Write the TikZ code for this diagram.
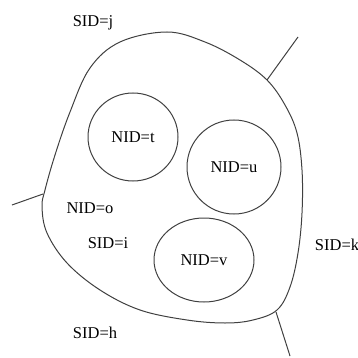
\documentclass[tikz,border=0pt]{standalone}
\usepackage{fontspec}
\setmainfont{Liberation Serif}
\usetikzlibrary{shapes.geometric}
\begin{document}
\begin{tikzpicture}[x=1pt,y=-1pt,
  ln/.style={line width=1pt,draw=black!75},
  lbl/.style={font=\fontsize{16.5}{19}\selectfont,inner sep=0pt},
  cell/.style={ln,ellipse,inner sep=0pt,font=\fontsize{16.5}{19}\selectfont}]
\useasboundingbox (0,0) rectangle (358,358);
% big region
\draw[ln] plot[smooth cycle,tension=0.6] coordinates {
 (167,32) (205,42) (240,60) (267,80) (285,105) (297,133) (302,170) (302,213)
 (298,253) (290,287) (277,310) (253,320) (225,323) (187,320) (140,310)
 (100,290) (67,263) (47,233) (42,207) (45,190) (55,155) (70,112) (90,68) (120,42)};
% attach points
\coordinate (a1) at (267,80);
\coordinate (b1) at (298,37);
\coordinate (a2) at (43,194);
\coordinate (b2) at (12,205);
\coordinate (a3) at (276,312);
\coordinate (b3) at (290,356);
\draw[ln] (a1) -- (b1);
\draw[ln] (a2) -- (b2);
\draw[ln] (a3) -- (b3);
% cells
\node[cell,minimum width=90pt,minimum height=88pt] (t) at (133,137) {NID=t};
\node[cell,minimum width=94pt,minimum height=94pt] (u) at (234,167) {NID=u};
\node[cell,minimum width=100pt,minimum height=84pt] (v) at (204,260) {NID=v};
\node[lbl] (o) at (90,208) {NID=o};
\node[lbl] (i) at (108,243) {SID=i};
\node[lbl] (k) at (337,245) {SID=k};
\node[lbl] (h) at (95,333) {SID=h};
\node[lbl] (j) at (93,23) {SID=j};
\end{tikzpicture}
\end{document}
